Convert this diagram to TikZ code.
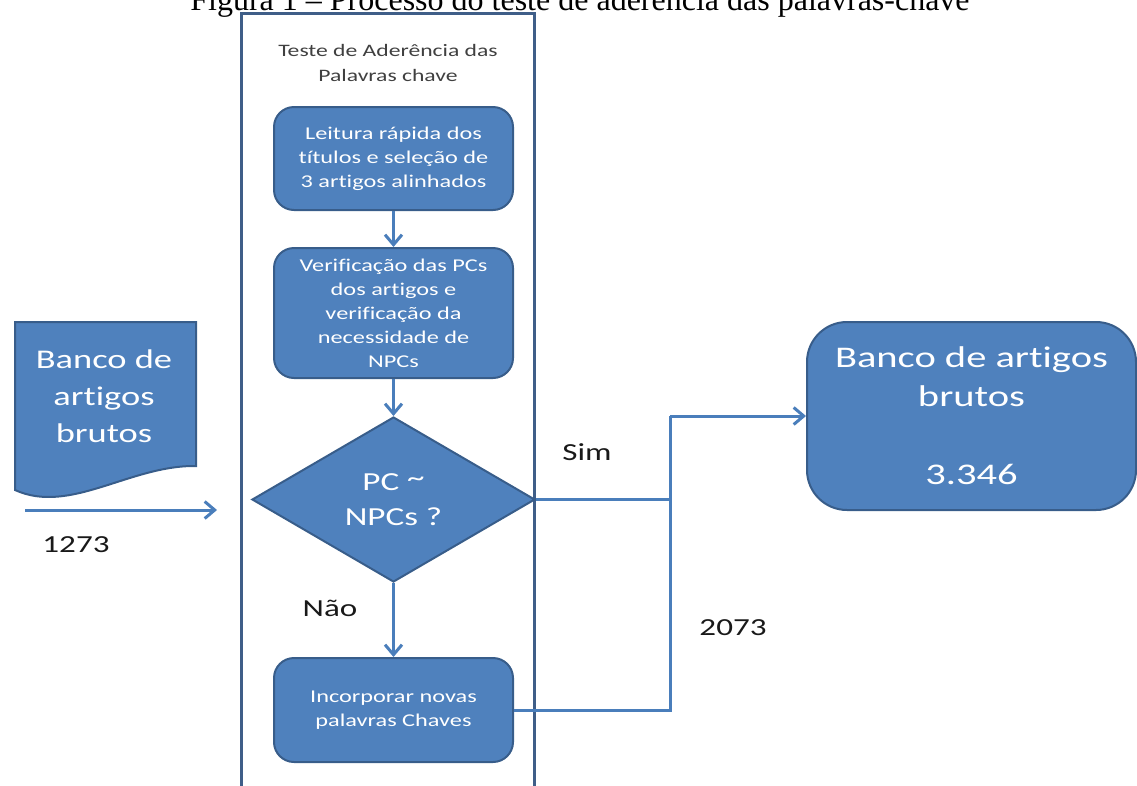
\documentclass[tikz,border=0pt]{standalone}
\usepackage{fontspec}
\setmainfont{Carlito}[FakeStretch=1.35,Ligatures={NoCommon,TeX}]
\newfontfamily\capfont{Liberation Serif}
\usetikzlibrary{arrows.meta,shapes.geometric}
\definecolor{boxfill}{HTML}{4F81BD}
\definecolor{boxedge}{HTML}{385D8A}
\definecolor{wirecol}{HTML}{4A7EBB}
\definecolor{framecol}{HTML}{3F5E88}
\begin{document}
\begin{tikzpicture}[x=1pt,y=-1pt,
  stepbox/.style={draw=boxedge, line width=2pt, fill=boxfill, rounded corners=20pt,
    text=white, align=center, minimum width=239pt, inner sep=0pt,
    font=\fontsize{18}{24}\selectfont},
  wire/.style={draw=wirecol, line width=3pt},
  arr/.style={wire, -{Straight Barb[length=10pt,width=17pt]}},
  lbl/.style={text=black!90, inner sep=0pt, font=\fontsize{24.5}{28}\selectfont}
]
\useasboundingbox (0,0) rectangle (1137,785);
\clip (0,0) rectangle (1137,785);

% caption
\node[anchor=base, inner sep=0pt, font=\capfont\fontsize{32}{36}\selectfont] (caption) at (580,10)
  {Figura 1 – Processo do teste de aderência das palavras-chave};

% swimlane frame and its title
\draw[draw=framecol, line width=3pt] (241,13) rectangle (534,810);
\node[align=center, text=black!75, inner sep=0pt, font=\fontsize{17.5}{25}\selectfont] (lanetitle) at (388,63)
  {Teste de Aderência das\\Palavras chave};

% process steps
\node[stepbox, minimum height=103pt] (b1) at (393.5,158.5)
  {Leitura rápida dos\\títulos e seleção de\\3 artigos alinhados};
\node[stepbox, minimum height=130pt] (b2) at (393.5,313)
  {Verificação das PCs\\dos artigos e\\verificação da\\necessidade de\\NPCs};
\node[diamond, draw=boxedge, line width=2pt, fill=boxfill, text=white, align=center,
  minimum width=283pt, minimum height=165pt, inner sep=0pt,
  font=\fontsize{26}{35}\selectfont] (dec) at (393.5,499.5)
  {PC \raisebox{0.3ex}{\textasciitilde}\\NPCs ?};
\node[stepbox, minimum height=104pt] (b3) at (393.5,710)
  {Incorporar novas\\palavras Chaves};

% input document
\draw[draw=boxedge, line width=2pt, fill=boxfill]
  (15,322) -- (196,322) -- (196,466)
  .. controls (130,465) and (70,515) .. (15,490) -- cycle;
\node[align=center, text=white, inner sep=0pt, font=\fontsize{27}{37}\selectfont] (bank) at (104,396)
  {Banco de\\artigos\\brutos};

% result
\node[draw=boxedge, line width=2pt, fill=boxfill, rounded corners=40pt, text=white, align=center,
  minimum width=329pt, minimum height=188pt, inner sep=0pt,
  font=\fontsize{30}{39}\selectfont] (res) at (971.5,416)
  {Banco de artigos\\brutos\\[39pt]3.346};

% connectors
\coordinate (in0) at (25,510);
\coordinate (in1) at (217,510);
\coordinate (jt) at (670,416);
\coordinate (jb) at (670,710);
\draw[arr] (in0) -- (in1);
\draw[arr] (b1) -- (b2);
\draw[arr] (b2) -- (dec);
\draw[arr] (dec) -- (b3);
\draw[wire] (dec.east) -- (dec.east -| jt);
\draw[wire] (b3.east) -- (jb) -- (jt);
\draw[arr] (jt) -- (res.west);

% labels
\node[lbl] (l1273) at (76,545) {1273};
\node[lbl] (lsim) at (587,452) {Sim};
\node[lbl] (lnao) at (330,608) {Não};
\node[lbl] (l2073) at (733,628) {2073};
\end{tikzpicture}
\end{document}
